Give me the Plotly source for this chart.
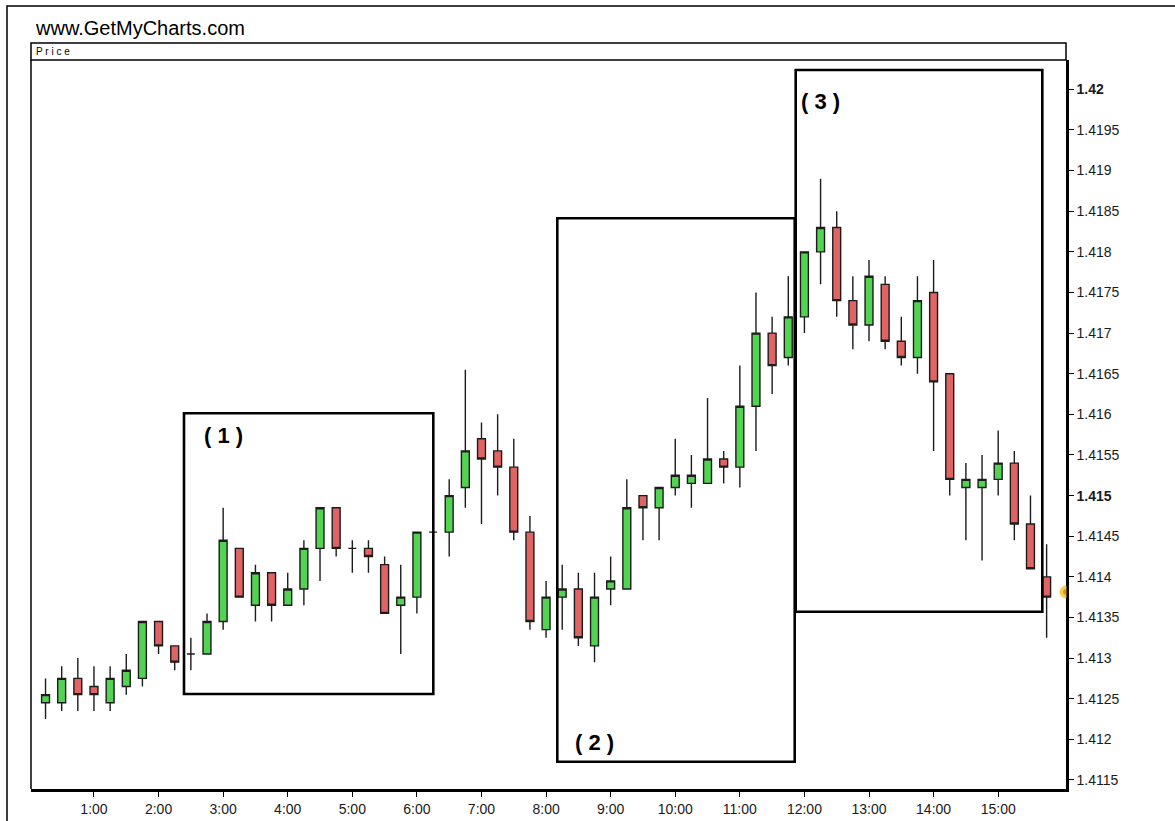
import plotly.graph_objects as go
import pandas as pd

# ---------------- data ----------------
times = ["00:15", "00:30", "00:45", "01:00", "01:15", "01:30", "01:45", "02:00",
         "02:15", "02:30", "02:45", "03:00", "03:15", "03:30", "03:45", "04:00",
         "04:15", "04:30", "04:45", "05:00", "05:15", "05:30", "05:45", "06:00",
         "06:15", "06:30", "06:45", "07:00", "07:15", "07:30", "07:45", "08:00",
         "08:15", "08:30", "08:45", "09:00", "09:15", "09:30", "09:45", "10:00",
         "10:15", "10:30", "10:45", "11:00", "11:15", "11:30", "11:45", "12:00",
         "12:15", "12:30", "12:45", "13:00", "13:15", "13:30", "13:45", "14:00",
         "14:15", "14:30", "14:45", "15:00", "15:15", "15:30", "15:45"]

open_ = [1.41245, 1.41245, 1.41275, 1.41265, 1.41245, 1.41265, 1.41275, 1.41345,
         1.41315, 1.41305, 1.41305, 1.41345, 1.41435, 1.41365, 1.41405, 1.41365,
         1.41385, 1.41435, 1.41485, 1.41435, 1.41435, 1.41415, 1.41365, 1.41375,
         1.41455, 1.41455, 1.41510, 1.41570, 1.41555, 1.41535, 1.41455, 1.41335,
         1.41375, 1.41385, 1.41315, 1.41385, 1.41385, 1.41500, 1.41485, 1.41510,
         1.41515, 1.41515, 1.41545, 1.41535, 1.41610, 1.41700, 1.41670, 1.41720,
         1.41800, 1.41830, 1.41740, 1.41710, 1.41760, 1.41690, 1.41670, 1.41750,
         1.41650, 1.41510, 1.41510, 1.41520, 1.41540, 1.41465, 1.41400]

high = [1.41275, 1.41290, 1.41300, 1.41290, 1.41290, 1.41305, 1.41345, 1.41345,
        1.41315, 1.41325, 1.41355, 1.41485, 1.41435, 1.41415, 1.41405, 1.41405,
        1.41445, 1.41485, 1.41485, 1.41445, 1.41445, 1.41425, 1.41415, 1.41455,
        1.41485, 1.41520, 1.41655, 1.41590, 1.41600, 1.41570, 1.41475, 1.41395,
        1.41415, 1.41405, 1.41405, 1.41425, 1.41520, 1.41500, 1.41510, 1.41570,
        1.41550, 1.41620, 1.41555, 1.41660, 1.41750, 1.41720, 1.41770, 1.41800,
        1.41890, 1.41850, 1.41770, 1.41790, 1.41770, 1.41720, 1.41770, 1.41790,
        1.41650, 1.41540, 1.41550, 1.41580, 1.41555, 1.41500, 1.41440]

low = [1.41225, 1.41235, 1.41235, 1.41235, 1.41235, 1.41255, 1.41265, 1.41305,
       1.41285, 1.41285, 1.41305, 1.41335, 1.41375, 1.41345, 1.41345, 1.41365,
       1.41365, 1.41395, 1.41425, 1.41405, 1.41405, 1.41355, 1.41305, 1.41355,
       1.41425, 1.41425, 1.41485, 1.41465, 1.41500, 1.41445, 1.41335, 1.41325,
       1.41335, 1.41315, 1.41295, 1.41365, 1.41385, 1.41445, 1.41445, 1.41500,
       1.41485, 1.41515, 1.41515, 1.41510, 1.41555, 1.41625, 1.41660, 1.41700,
       1.41760, 1.41720, 1.41680, 1.41690, 1.41680, 1.41660, 1.41650, 1.41555,
       1.41500, 1.41445, 1.41420, 1.41500, 1.41445, 1.41410, 1.41325]

close = [1.41255, 1.41275, 1.41255, 1.41255, 1.41275, 1.41285, 1.41345, 1.41315,
         1.41295, 1.41305, 1.41345, 1.41445, 1.41375, 1.41405, 1.41365, 1.41385,
         1.41435, 1.41485, 1.41435, 1.41435, 1.41425, 1.41355, 1.41375, 1.41455,
         1.41455, 1.41500, 1.41555, 1.41545, 1.41535, 1.41455, 1.41345, 1.41375,
         1.41385, 1.41325, 1.41375, 1.41395, 1.41485, 1.41485, 1.41510, 1.41525,
         1.41525, 1.41545, 1.41535, 1.41610, 1.41700, 1.41660, 1.41720, 1.41800,
         1.41830, 1.41740, 1.41710, 1.41770, 1.41690, 1.41670, 1.41740, 1.41640,
         1.41520, 1.41520, 1.41520, 1.41540, 1.41465, 1.41410, 1.41375]

x_tick_labels = ["1:00", "2:00", "3:00", "4:00", "5:00", "6:00", "7:00", "8:00",
                 "9:00", "10:00", "11:00", "12:00", "13:00", "14:00", "15:00"]

y_tick_vals = [1.4115, 1.412, 1.4125, 1.413, 1.4135, 1.414, 1.4145, 1.415, 1.4155,
               1.416, 1.4165, 1.417, 1.4175, 1.418, 1.4185, 1.419, 1.4195, 1.42]
y_tick_text = ["1.4115", "1.412", "1.4125", "1.413", "1.4135", "1.414", "1.4145",
               "<b>1.415</b>", "1.4155", "1.416", "1.4165", "1.417", "1.4175",
               "1.418", "1.4185", "1.419", "1.4195", "<b>1.42</b>"]

DAY = "2010-01-04 "
x = pd.to_datetime([DAY + t for t in times])
x_tick_vals = pd.to_datetime([DAY + lab.zfill(5) for lab in x_tick_labels])

# ---------------- layout geometry (pixels) ----------------
W, H = 1175, 821
L, R, T, B = 31, 1066, 60, 789


def xp(px):
    return (px - L) / (R - L)


def yp(py):
    return (B - py) / (B - T)


FONT = "Liberation Sans, Arial, sans-serif"
GREEN = "#52D452"
RED = "#E06464"
EDGE = "#1c1c1c"

fig = go.Figure(go.Candlestick(
    x=x, open=open_, high=high, low=low, close=close,
    increasing=dict(fillcolor=GREEN, line=dict(color=EDGE, width=1.4)),
    decreasing=dict(fillcolor=RED, line=dict(color=EDGE, width=1.4)),
    whiskerwidth=0,
    showlegend=False,
))

# half-disc "last price" marker hugging the right axis
mx, my, mr = 1066, 592, 6
k = 0.5523 * mr
marker_path = (
    f"M {xp(mx)},{yp(my - mr)} "
    f"C {xp(mx - k)},{yp(my - mr)} {xp(mx - mr)},{yp(my - k)} {xp(mx - mr)},{yp(my)} "
    f"C {xp(mx - mr)},{yp(my + k)} {xp(mx - k)},{yp(my + mr)} {xp(mx)},{yp(my + mr)} Z"
)
inner_path = (
    f"M {xp(mx)},{yp(my - 3)} "
    f"C {xp(mx - 1.7)},{yp(my - 3)} {xp(mx - 3)},{yp(my - 1.7)} {xp(mx - 3)},{yp(my)} "
    f"C {xp(mx - 3)},{yp(my + 1.7)} {xp(mx - 1.7)},{yp(my + 3)} {xp(mx)},{yp(my + 3)} Z"
)

shapes = [
    # outer frame
    dict(type="rect", xref="paper", yref="paper", x0=xp(7), x1=xp(1250),
         y0=yp(900), y1=yp(6), line=dict(color="black", width=1.5)),
    # header strip "Price" (its bottom edge is the plot's top border)
    dict(type="rect", xref="paper", yref="paper", x0=xp(L), x1=xp(R),
         y0=yp(T), y1=yp(43), line=dict(color="black", width=1.5)),
    # thin left border of the plot
    dict(type="line", xref="paper", yref="paper", x0=xp(L), x1=xp(L),
         y0=yp(B), y1=yp(T), line=dict(color="black", width=1.5)),
    # annotation boxes
    dict(type="rect", xref="paper", yref="paper", x0=xp(184), x1=xp(433.3),
         y0=yp(694), y1=yp(413.3), line=dict(color="black", width=2.6)),
    dict(type="rect", xref="paper", yref="paper", x0=xp(557.3), x1=xp(794.7),
         y0=yp(761.7), y1=yp(218.3), line=dict(color="black", width=2.6)),
    dict(type="rect", xref="paper", yref="paper", x0=xp(795.7), x1=xp(1042.3),
         y0=yp(611.7), y1=yp(70), line=dict(color="black", width=2.6)),
    dict(type="path", xref="paper", yref="paper", path=marker_path,
         fillcolor="#F7D34A", line=dict(color="#F2C14A", width=0.8)),
    dict(type="path", xref="paper", yref="paper", path=inner_path,
         fillcolor="#E8901C", line=dict(width=0)),
]

annotations = [
    dict(text="www.GetMyCharts.com", xref="paper", yref="paper", x=xp(33), y=yp(28),
         xanchor="left", yanchor="middle", showarrow=False,
         font=dict(family=FONT, size=20, color="black")),
    dict(text="P r i c e", xref="paper", yref="paper", x=xp(34), y=yp(51.5),
         xanchor="left", yanchor="middle", showarrow=False,
         font=dict(family=FONT, size=10, color="black")),
    dict(text="<b>( 1 )</b>", xref="paper", yref="paper", x=xp(223), y=yp(436),
         xanchor="center", yanchor="middle", showarrow=False,
         font=dict(family=FONT, size=22, color="black")),
    dict(text="<b>( 2 )</b>", xref="paper", yref="paper", x=xp(594), y=yp(742),
         xanchor="center", yanchor="middle", showarrow=False,
         font=dict(family=FONT, size=22, color="black")),
    dict(text="<b>( 3 )</b>", xref="paper", yref="paper", x=xp(820), y=yp(101),
         xanchor="center", yanchor="middle", showarrow=False,
         font=dict(family=FONT, size=22, color="black")),
]

fig.update_layout(
    width=W, height=H,
    margin=dict(l=L, r=W - R, t=T, b=H - B, pad=0, autoexpand=False),
    paper_bgcolor="white", plot_bgcolor="white",
    font=dict(family=FONT, color="#1a1a1a", size=14),
    shapes=shapes, annotations=annotations,
    showlegend=False,
    xaxis=dict(
        type="date", automargin=False,
        range=[DAY + "00:01:30", DAY + "16:03:00"],
        rangeslider=dict(visible=False),
        tickmode="array", tickvals=x_tick_vals, ticktext=x_tick_labels,
        ticks="outside", ticklen=5, tickwidth=1, tickcolor="black",
        showgrid=False, zeroline=False,
        showline=True, linecolor="black", linewidth=2.5, mirror=False,
        tickfont=dict(family=FONT, size=14, color="#1a1a1a"),
    ),
    yaxis=dict(
        side="right", automargin=False,
        range=[1.411389, 1.420361],
        tickmode="array", tickvals=y_tick_vals, ticktext=y_tick_text,
        ticks="outside", ticklen=5, tickwidth=1, tickcolor="black",
        showgrid=False, zeroline=False,
        showline=True, linecolor="black", linewidth=2.5, mirror=False,
        tickfont=dict(family=FONT, size=14, color="#1a1a1a"),
    ),
)

fig.write_html("out.html", config={"displayModeBar": False},
               post_script="document.body.style.margin='0';")
